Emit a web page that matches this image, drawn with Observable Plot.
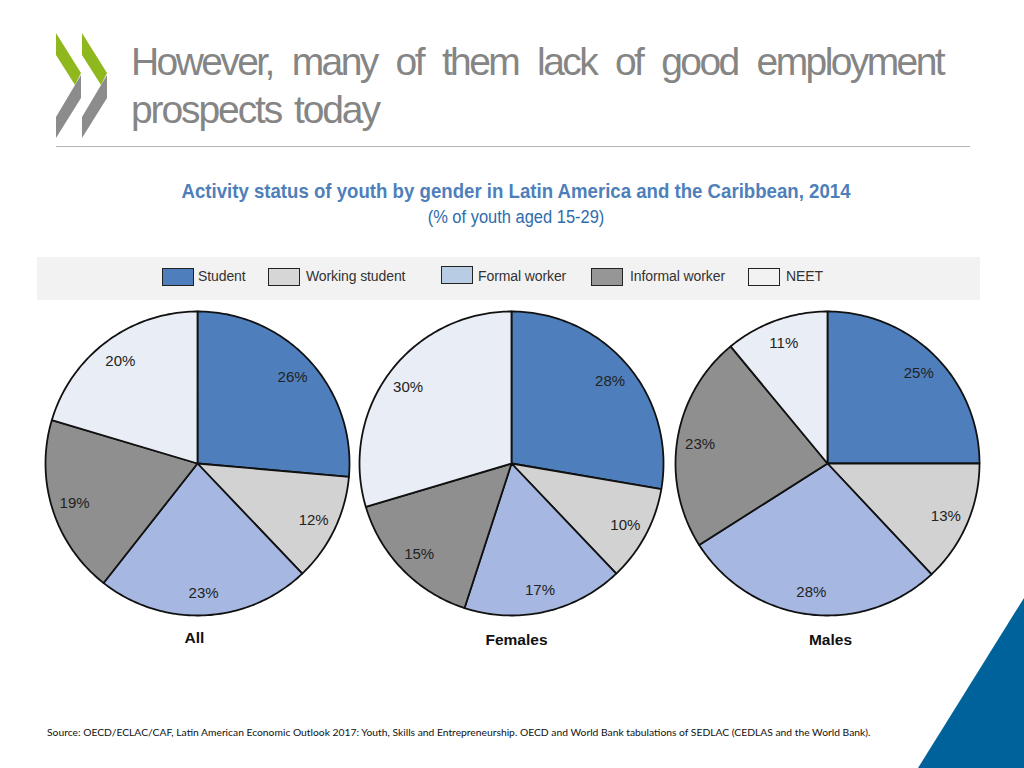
<!DOCTYPE html>
<html>
<head>
<meta charset="utf-8">
<script src="https://cdn.jsdelivr.net/npm/d3@7"></script>
<script src="https://cdn.jsdelivr.net/npm/@observablehq/plot@0.6"></script>
<style>
html,body{margin:0;padding:0;background:#fff;width:1024px;height:768px;overflow:hidden;font-family:"Liberation Sans",Arial,sans-serif}
.abs{position:absolute;white-space:nowrap}
#chart{position:absolute;left:0;top:0}
#chart svg{background:transparent}
.chev{position:absolute;left:0;top:0;width:120px;height:150px}
.swatch{position:absolute;width:30px;height:16px;border:1.5px solid #222;box-sizing:content-box}
.ltext{position:absolute;font-size:14px;color:#333;white-space:nowrap;letter-spacing:-.1px}
</style>
</head>
<body>
<div class="chev" style="background:#8fb81e;clip-path:polygon(56px 33px,81px 73px,75px 85px,56px 55px)"></div>
<div class="chev" style="background:#8c8c8c;clip-path:polygon(75px 85px,81px 75px,81px 98px,56px 138px,56px 117px)"></div>
<div class="chev" style="background:#8fb81e;clip-path:polygon(82px 33px,107px 73px,101px 85px,82px 55px)"></div>
<div class="chev" style="background:#8c8c8c;clip-path:polygon(101px 85px,107px 75px,107px 98px,82px 138px,82px 117px)"></div>

<div class="abs" style="left:131px;top:39px;width:812px;font-size:39px;line-height:46px;color:#858585;text-align:justify;text-align-last:justify;white-space:normal;letter-spacing:-2.6px">However, many of them lack of good employment</div>
<div class="abs" style="left:131px;top:87px;font-size:39px;line-height:46px;color:#858585;letter-spacing:-2.1px;word-spacing:4px">prospects today</div>
<div class="abs" style="left:56px;top:146px;width:914px;height:1px;background:#b4b4b4"></div>

<div class="abs" style="left:0;width:1032px;text-align:center;top:179px;font-weight:bold;font-size:21px;color:#4f7fba;transform:scaleX(.887)">Activity status of youth by gender in Latin America and the Caribbean, 2014</div>
<div class="abs" style="left:0;width:1032px;text-align:center;top:207px;font-size:18px;color:#2f6cab;transform:scaleX(.915)">(% of youth aged 15-29)</div>

<div class="abs" style="left:37px;top:257px;width:943px;height:43px;background:#f2f2f2"></div>
<div id="legend"></div>
<div id="chart"></div>

<div class="abs" style="left:47px;top:725px;font-family:'Lato';font-size:10.3px;line-height:14px;color:#111">Source: OECD/ECLAC/CAF, Latin American Economic Outlook 2017: Youth, Skills and Entrepreneurship. OECD and World Bank tabulations of SEDLAC (CEDLAS and the World Bank).</div>
<div class="abs" style="left:0;top:0;width:1024px;height:768px;background:#00629b;clip-path:polygon(1024px 598px,1024px 768px,918px 768px)"></div>

<script>
const categories = ["Student", "Working student", "Formal worker", "Informal worker", "NEET"];
const groups = ["All", "Females", "Males"];
const allValues = [26.4, 11.5, 22.7, 19.0, 20.4];
const femaleValues = [27.7, 10.2, 17.1, 15.4, 29.6];
const maleValues = [25.0, 13.0, 28.0, 23.0, 11.0];
const sliceColors = ["#4e7fbc", "#d2d2d2", "#a6b8e1", "#8f8f8f", "#e9edf6"];
const legendColors = ["#4e7fbc", "#d6d6d6", "#b8cce4", "#969696", "#f2f2f2"];

// layout
const centersX = [197, 511, 827], centerY = 463, radius = 152, labelRadius = 129;
const titleX = [194, 516, 830], titleY = [638, 640, 640];
const legendX = [[162, 198, 268], [268, 306, 268], [441, 478, 266], [591, 630, 268], [748, 786, 268]];

const series = [allValues, femaleValues, maleValues];
const outline = [], labels = [];
series.forEach((values, g) => {
  let cum = 0;
  values.forEach((v, c) => {
    const a0 = cum / 100 * 2 * Math.PI, a1 = (cum + v) / 100 * 2 * Math.PI;
    const key = groups[g] + "/" + categories[c];
    const pt = (a, r) => ({key, category: categories[c], x: centersX[g] + r * Math.sin(a), y: centerY - r * Math.cos(a)});
    outline.push(pt(0, 0));
    const n = Math.max(2, Math.ceil(v * 3.6));
    for (let i = 0; i <= n; i++) outline.push(pt(a0 + (a1 - a0) * i / n, radius));
    outline.push(pt(0, 0));
    const m = (a0 + a1) / 2;
    labels.push({...pt(m, labelRadius), text: Math.round(v) + "%"});
    cum += v;
  });
});
const titles = groups.map((g, i) => ({text: g, x: titleX[i], y: titleY[i]}));

const plot = Plot.plot({
  width: 1024, height: 768,
  margin: 0,
  x: {domain: [0, 1024], range: [0, 1024], axis: null},
  y: {domain: [0, 768], range: [0, 768], axis: null},
  color: {domain: categories, range: sliceColors},
  style: {background: "transparent"},
  marks: [
    Plot.line(outline, {x: "x", y: "y", z: "key", fill: "category", stroke: "#111", strokeWidth: 1.8, curve: "linear", strokeLinejoin: "round"}),
    Plot.text(labels, {x: "x", y: "y", dy: 1, text: "text", fontSize: 15, fill: "#222", fontFamily: "Liberation Sans"}),
    Plot.text(titles, {x: "x", y: "y", text: "text", fontSize: 15.5, fontWeight: "bold", fill: "#111", fontFamily: "Liberation Sans"})
  ]
});
document.getElementById("chart").append(plot);

const lg = document.getElementById("legend");
categories.forEach((c, i) => {
  const [sx, tx, sy] = legendX[i];
  const s = document.createElement("div");
  s.className = "swatch";
  s.style.cssText = `left:${sx}px;top:${sy}px;background:${legendColors[i]}`;
  const t = document.createElement("div");
  t.className = "ltext";
  t.style.cssText = `left:${tx}px;top:268px`;
  t.textContent = c;
  lg.append(s, t);
});
</script>
</body>
</html>
